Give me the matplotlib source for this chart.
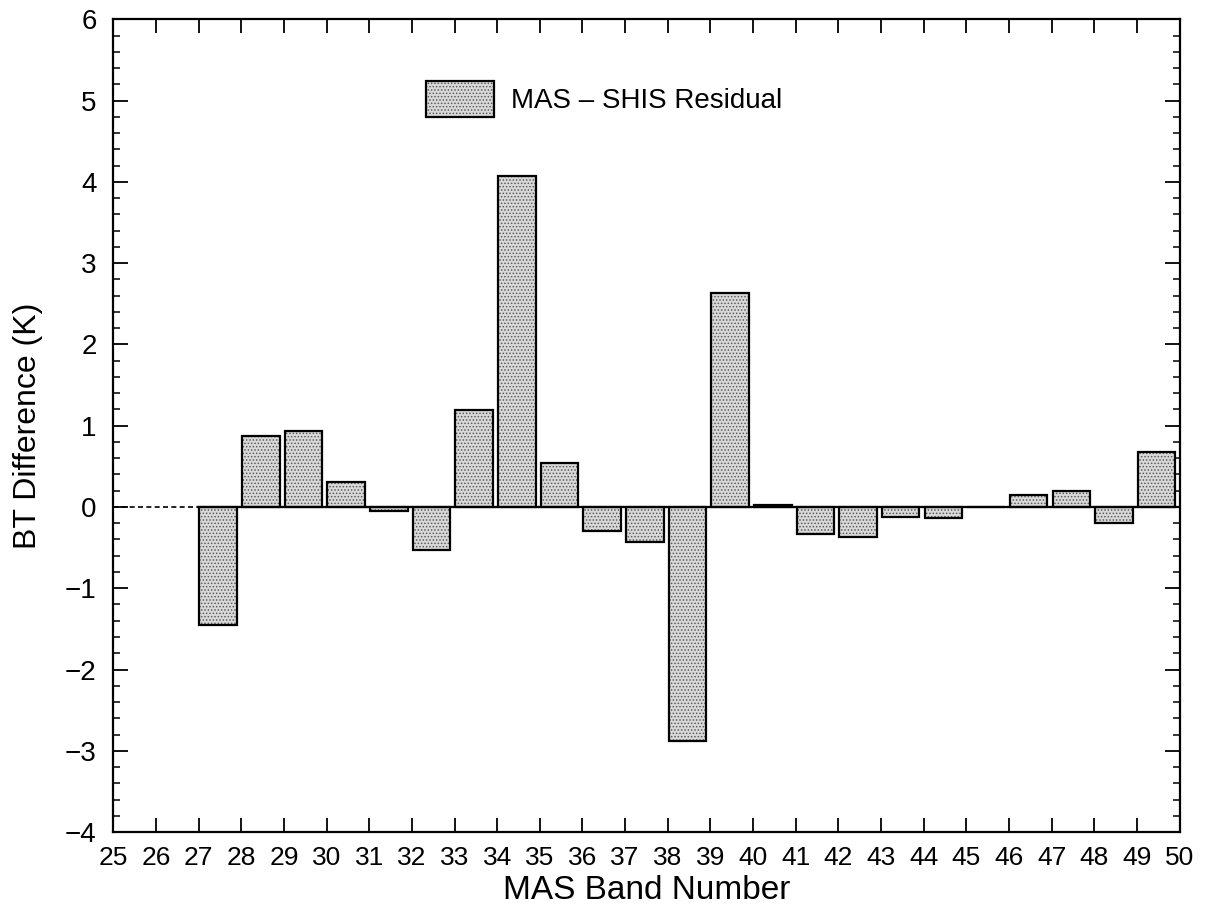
import matplotlib.pyplot as plt
from matplotlib.patches import Patch
from matplotlib.legend_handler import HandlerTuple
from matplotlib.ticker import MultipleLocator

plt.rcParams['font.family'] = ['Liberation Sans', 'DejaVu Sans']
plt.rcParams['hatch.linewidth'] = 0.7

# MAS band numbers and MAS - SHIS brightness temperature residuals (K)
bands = [27, 28, 29, 30, 31, 32, 33, 34, 35, 36, 37, 38,
         39, 40, 41, 42, 43, 44, 45, 46, 47, 48, 49]
residual = [-1.45, 0.87, 0.94, 0.31, -0.05, -0.53, 1.19, 4.07, 0.54, -0.29, -0.43, -2.88,
            2.63, 0.02, -0.33, -0.37, -0.12, -0.13, 0.0, 0.15, 0.2, -0.2, 0.68]
xticks = list(range(25, 51))

fill_c = '#d9d9d9'
dot_c = '#5a5a5a'

fig = plt.figure(figsize=(12.05, 9.13), dpi=100)
ax = fig.add_axes([0.094, 0.0887, 0.885, 0.890])

xs = [b + 0.02 for b in bands]
# stippled fill then black outline on top
ax.bar(xs, residual, width=0.88, align='edge', facecolor=fill_c,
       edgecolor=dot_c, hatch='.....', linewidth=0, zorder=2)
ax.bar(xs, residual, width=0.88, align='edge', fill=False,
       edgecolor='black', linewidth=1.6, zorder=3)

# zero line: dotted where there is no data, solid under each bar
ax.plot([25, 27], [0, 0], color='black', lw=1.2, ls=(0, (3, 2)), zorder=3)
for b in bands:
    ax.plot([b - 0.02, b + 0.95], [0, 0], color='black', lw=1.6, zorder=3)

ax.set_xlim(25, 50)
ax.set_ylim(-4, 6)
ax.set_xticks(xticks)
ax.set_xticklabels([str(t) for t in xticks], fontsize=19)
ax.yaxis.set_major_locator(MultipleLocator(1))
ax.yaxis.set_minor_locator(MultipleLocator(0.2))
ax.tick_params(axis='y', which='major', direction='in', length=11, width=1.3,
               labelsize=20, right=True, pad=12)
ax.tick_params(axis='y', which='minor', direction='in', length=5, width=1.1, right=True)
ax.tick_params(axis='x', which='major', direction='in', length=10, width=1.3,
               top=True, pad=10)
for s in ax.spines.values():
    s.set_linewidth(1.6)

ax.set_xlabel('MAS Band Number', fontsize=24, labelpad=4)
ax.set_ylabel('BT Difference (K)', fontsize=23, labelpad=16)

h_fill = Patch(facecolor=fill_c, edgecolor=dot_c, hatch='.....', linewidth=0)
h_edge = Patch(fill=False, edgecolor='black', linewidth=1.6)
ax.legend([(h_fill, h_edge)], ['MAS \u2013 SHIS Residual'],
          handler_map={tuple: HandlerTuple(ndivide=1, pad=0)},
          loc='upper left', bbox_to_anchor=(0.27, 0.955), frameon=False,
          fontsize=20, handlelength=2.45, handleheight=1.6, handletextpad=0.6)

plt.savefig('out.png', dpi=100)
